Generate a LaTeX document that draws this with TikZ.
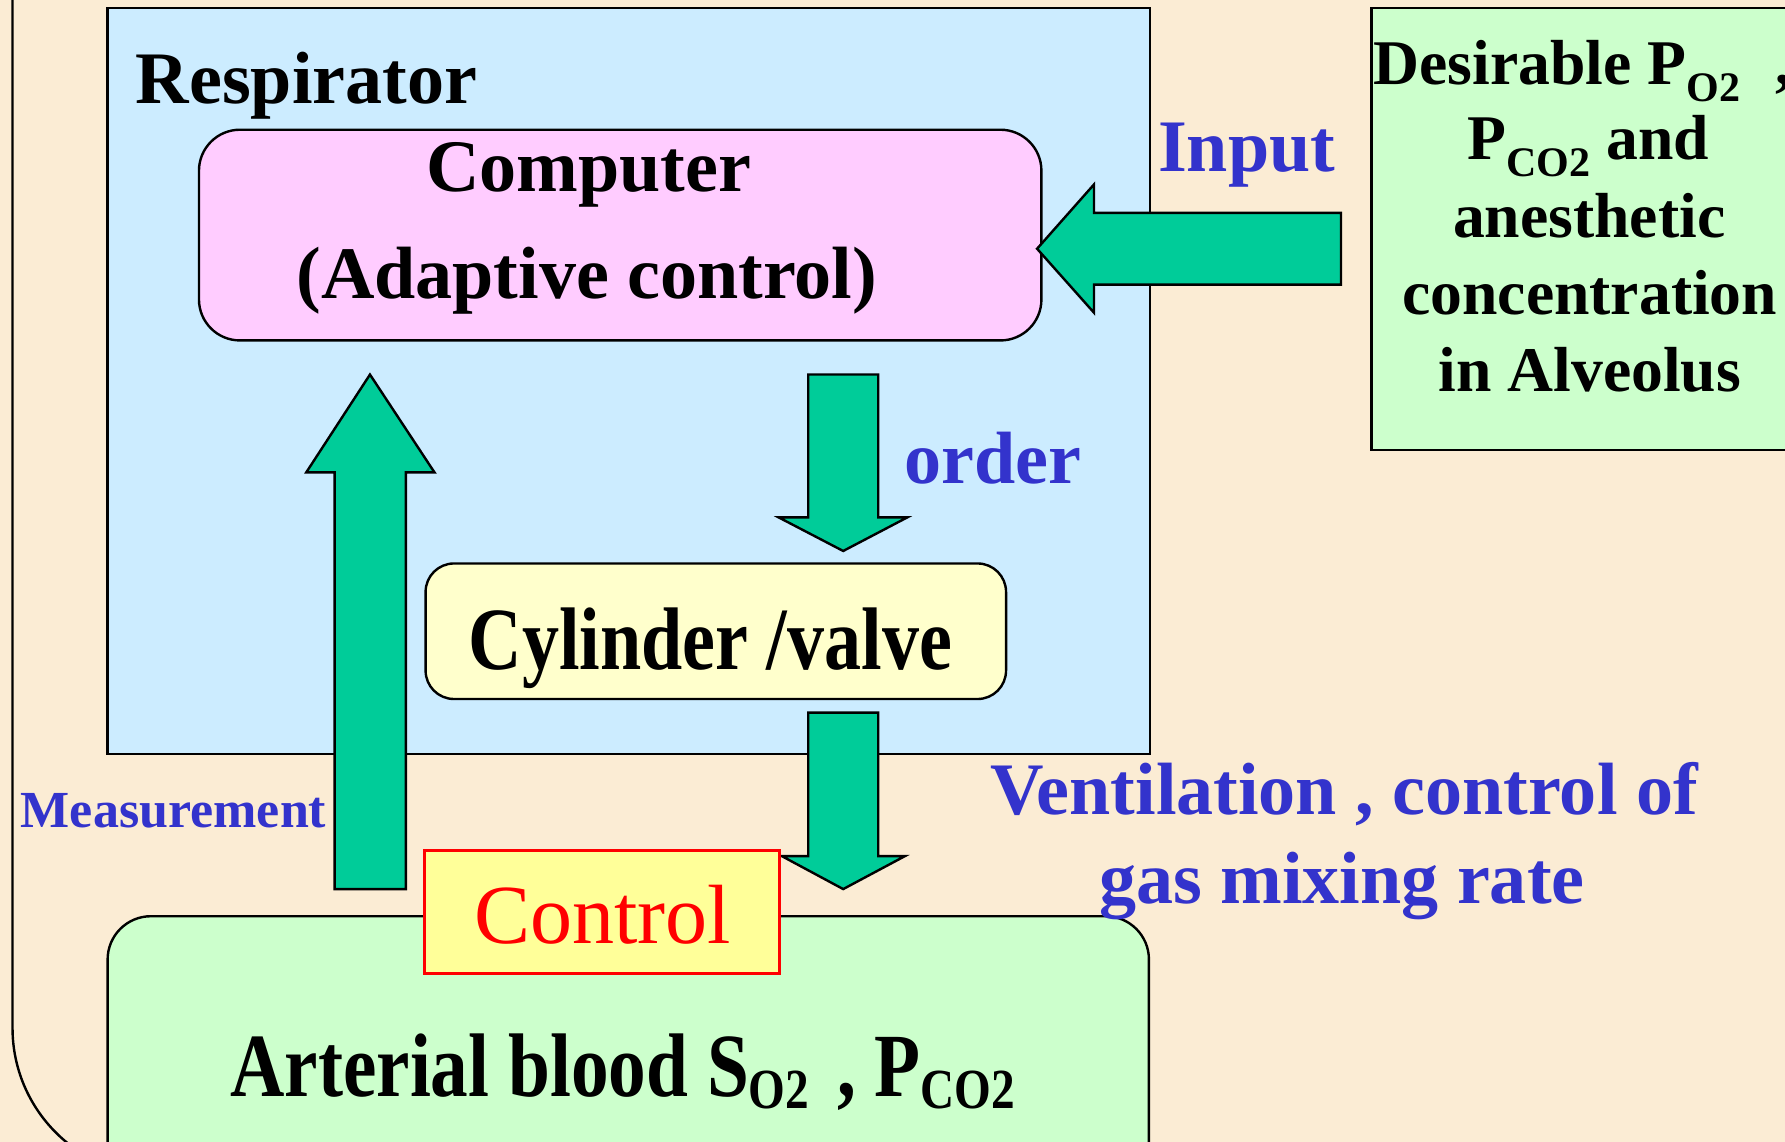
\documentclass[tikz,border=0pt]{standalone}
\usepackage{fontspec}
\setmainfont{Liberation Serif}
\usepackage{graphicx}
\definecolor{bgc}{RGB}{251,236,212}
\definecolor{respc}{HTML}{CCECFF}
\definecolor{pinkc}{HTML}{FFCCFF}
\definecolor{cylc}{HTML}{FFFFCC}
\definecolor{greenc}{HTML}{CCFFCC}
\definecolor{ctrlc}{HTML}{FFFF99}
\definecolor{arrc}{HTML}{00CC99}
\definecolor{bluetxt}{HTML}{3333CC}
\definecolor{redtxt}{HTML}{FF0000}
\newcommand{\subR}[1]{\raisebox{-4.2pt}{\fontsize{10.5pt}{11pt}\selectfont #1}}
\newcommand{\subB}[1]{\raisebox{-2.6pt}{\fontsize{11.8pt}{13pt}\selectfont #1}}
\tikzset{
  box/.style={draw=black, line width=0.6pt, inner sep=0pt},
  arr/.style={draw=black, line width=0.6pt, fill=arrc, line join=miter},
  bigtxt/.style={font=\fontsize{18.5pt}{22pt}\selectfont\bfseries, inner sep=0pt},
  bluetext/.style={bigtxt, text=bluetxt},
  righttxt/.style={font=\fontsize{15.9pt}{19pt}\selectfont\bfseries, inner sep=0pt, anchor=base},
}
\begin{document}
\begin{tikzpicture}[x=0.01cm,y=-0.01cm]
\useasboundingbox (0,0) rectangle (1568,1003);
\fill[bgc] (0,0) rectangle (1568,1003);
\begin{scope}
\clip (0,0) rectangle (1568,1003);
% outer frame
\draw[line width=0.6pt, rounded corners=1.3cm] (11,-300) rectangle (1800,1033);
% boxes
\node[box, fill=respc, minimum width=9.152cm, minimum height=6.546cm] (resp) at (552.4,334.7) {};
\node[box, fill=pinkc, rounded corners=0.36cm, minimum width=7.396cm, minimum height=1.85cm] (comp) at (544.8,206.5) {};
\node[box, fill=cylc, rounded corners=0.25cm, minimum width=5.096cm, minimum height=1.19cm] (cyl) at (628.8,554.5) {};
\node[box, fill=greenc, rounded corners=0.38cm, minimum width=9.142cm, minimum height=2.4cm] (blood) at (551.9,924.9) {};
\node[box, fill=greenc, minimum width=3.85cm, minimum height=3.876cm] (desire) at (1397.5,201.2) {};
% arrows
\draw[arr] (294,781) -- (294,415) -- (269,415) -- (325,329) -- (381.7,415) -- (356.5,415) -- (356.5,781) -- cycle;
\draw[arr] (710,329) -- (710,454.5) -- (684,454.5) -- (740.7,484) -- (797,454.5) -- (771.5,454.5) -- (771.5,329) -- cycle;
\draw[arr] (710,626) -- (710,752) -- (686.7,752) -- (740.7,781) -- (795,752) -- (771.5,752) -- (771.5,626) -- cycle;
\draw[arr] (911,218.5) -- (961,162) -- (961,187) -- (1178,187) -- (1178,250) -- (961,250) -- (961,274.7) -- cycle;
% control box
\node[draw=redtxt, line width=0.6pt, fill=ctrlc, inner sep=0pt, minimum width=3.117cm, minimum height=1.08cm] (ctrl) at (528.9,801) {};
\end{scope}
% texts
\node[bigtxt, anchor=base west] (tresp) at (118.5,91) {Respirator};
\node[bigtxt, anchor=base] (tcomp) at (517,168) {Computer};
\node[bigtxt, anchor=base] (tadapt) at (515.5,262) {(Adaptive control)};
\node[bigtxt, anchor=base] (tcyl) at (624,588) {\scalebox{1}[1.2]{Cylinder /valve}};
\node[font=\fontsize{18.8pt}{22pt}\selectfont\bfseries, inner sep=0pt, anchor=base west] (tblood) at (201.7,963) {\scalebox{1}[1.2]{Arterial blood S\subB{O2}\hspace{0.12em} , P\subB{CO2}}};
\node[bluetext, anchor=base] (tinput) at (1095,150.6) {Input};
\node[bluetext, anchor=base] (torder) at (872,425) {order};
\node[bluetext, anchor=base] (tvent1) at (1180.5,715.7) {Ventilation , control of};
\node[bluetext, anchor=base] (tvent2) at (1178.7,794) {gas mixing rate};
\node[font=\fontsize{13pt}{15pt}\selectfont\bfseries, text=bluetxt, inner sep=0pt, anchor=base west] (tmeas) at (17.6,726.5) {Measurement};
\node[font=\fontsize{21pt}{25pt}\selectfont, text=redtxt, inner sep=0pt, anchor=base] (tctrl) at (529.5,829) {Control};
\begin{scope}
\clip (0,0) rectangle (1568,1003);
\node[righttxt] (d1) at (1390,74) {Desirable P\subR{O2}\hspace{0.3em} ,};
\end{scope}
\node[righttxt] (d2) at (1395,140.5) {P\subR{CO2} and};
\node[righttxt] (d3) at (1396,208.5) {anesthetic};
\node[righttxt] (d4) at (1396.5,276) {concentration};
\node[righttxt] (d5) at (1396.6,343.6) {in Alveolus};
\end{tikzpicture}
\end{document}
